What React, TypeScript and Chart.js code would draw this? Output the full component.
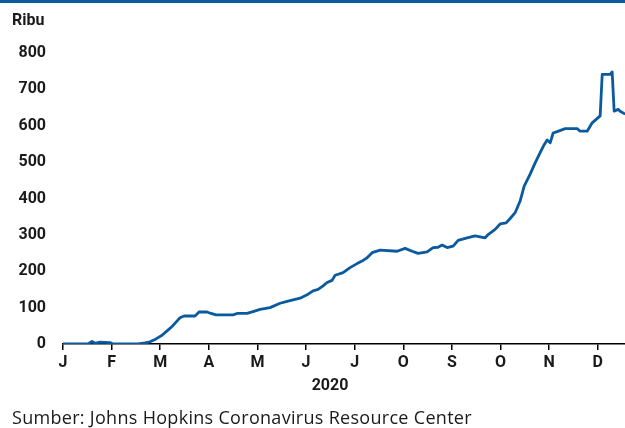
import React, { useEffect, useRef } from "react";
import { Chart, registerables } from "chart.js";

Chart.register(...registerables);

// Month tick labels (Indonesian initials as in the source)
const MONTH_LABELS = ["J", "F", "M", "A", "M", "J", "J", "O", "S", "O", "N", "D"];
const Y_TICKS = [0, 100, 200, 300, 400, 500, 600, 700, 800];
const X_MAX = 11.56;

// Position in months since 1 Jan 2020
const DATE_POS = [
  0, 0.514, 0.597, 0.658, 0.761, 0.967, 1.029, 1.543, 1.687, 1.79, 1.914, 2.037,
  2.14, 2.243, 2.325, 2.407, 2.49, 2.716, 2.798, 2.963, 3.045, 3.148, 3.498, 3.58,
  3.786, 3.909, 4.053, 4.259, 4.465, 4.63, 4.877, 5.041, 5.144, 5.247, 5.35, 5.432,
  5.535, 5.597, 5.761, 5.905, 6.049, 6.152, 6.255, 6.358, 6.523, 6.872, 7.037, 7.181,
  7.305, 7.49, 7.613, 7.716, 7.798, 7.901, 8.025, 8.128, 8.313, 8.477, 8.683, 8.745,
  8.889, 8.992, 9.115, 9.198, 9.3, 9.403, 9.486, 9.609, 9.712, 9.815, 9.897, 9.959,
  10.021, 10.082, 10.165, 10.329, 10.576, 10.638, 10.782, 10.885, 11.049, 11.091,
  11.255, 11.296, 11.337, 11.42, 11.461, 11.564,
];

// New cases, thousands (ribu)
const CASES_K = [
  0, 0, 7, 2, 5, 4, 0, 0, 3, 6, 14, 24,
  36, 48, 60, 72, 77, 77, 88, 88, 84, 80, 80, 84,
  84, 89, 95, 100, 112, 118, 126, 137, 146, 150, 160, 169,
  175, 189, 196, 210, 221, 228, 237, 251, 258, 255, 263, 255,
  249, 253, 265, 266, 272, 265, 269, 285, 292, 297, 292, 301,
  315, 330, 333, 345, 361, 393, 434, 467, 498, 526, 548, 561,
  553, 580, 584, 592, 592, 585, 585, 608, 627, 741,
  741, 748, 640, 645, 640, 632,
];

const BLUE = "#0a5a9f";
const TEXT = "#1a1a1a";
const FONT = "Roboto";

export default function App() {
  const ref = useRef<HTMLCanvasElement | null>(null);

  useEffect(() => {
    document.body.style.margin = "0";
    const canvas = ref.current;
    if (!canvas) return;
    const chart = new Chart(canvas, {
      type: "line",
      data: {
        datasets: [
          {
            data: DATE_POS.map((x, i) => ({ x, y: CASES_K[i] })),
            borderColor: BLUE,
            borderWidth: 2.8,
            borderJoinStyle: "round",
            pointRadius: 0,
            tension: 0,
            fill: false,
          },
        ],
      },
      options: {
        animation: false,
        responsive: false,
        maintainAspectRatio: false,
        layout: { padding: { top: 53, right: 0, bottom: 54, left: 0 } },
        plugins: { legend: { display: false }, tooltip: { enabled: false } },
        scales: {
          x: {
            type: "linear",
            min: 0,
            max: X_MAX,
            afterBuildTicks: (s: any) => {
              s.ticks = MONTH_LABELS.map((_, i) => ({ value: i }));
            },
            afterFit: (s: any) => {
              s.height = 30;
            },
            grid: {
              drawOnChartArea: false,
              drawTicks: true,
              tickLength: 6,
              color: "#000",
              lineWidth: 1.5,
            },
            border: { display: true, color: "#000", width: 1.5 },
            ticks: {
              callback: (_v: any, i: number) => MONTH_LABELS[i] ?? "",
              font: { family: FONT, size: 16, weight: "bold" },
              color: TEXT,
              padding: 3,
              maxRotation: 0,
              autoSkip: false,
            },
          },
          y: {
            min: 0,
            max: 800,
            afterBuildTicks: (s: any) => {
              s.ticks = Y_TICKS.map((v) => ({ value: v }));
            },
            afterFit: (s: any) => {
              s.width = 63;
            },
            grid: { display: false, drawTicks: false },
            border: { display: false },
            ticks: {
              font: { family: FONT, size: 16, weight: "bold" },
              color: TEXT,
              padding: 17,
            },
          },
        },
      },
    } as any);
    return () => chart.destroy();
  }, []);

  return (
    <div style={{ position: "relative", width: 625, height: 428, overflow: "hidden", background: "#fff" }}>
      <div style={{ position: "absolute", left: 0, top: 0, width: 625, height: 3, background: BLUE }} />
      <canvas ref={ref} width={625} height={428} style={{ position: "absolute", left: 0, top: 0 }} />
      <div
        style={{
          position: "absolute",
          left: 12,
          top: 10,
          fontFamily: FONT,
          fontWeight: 700,
          fontSize: 16,
          color: TEXT,
          lineHeight: "20px",
        }}
      >
        Ribu
      </div>
      <div
        style={{
          position: "absolute",
          left: 290,
          width: 80,
          top: 375,
          textAlign: "center",
          fontFamily: FONT,
          fontWeight: 700,
          fontSize: 16,
          color: TEXT,
          lineHeight: "20px",
        }}
      >
        2020
      </div>
      <div
        style={{
          position: "absolute",
          left: 12,
          top: 406,
          fontFamily: "Open Sans",
          fontSize: 18,
          letterSpacing: 0.3,
          color: TEXT,
          lineHeight: "22px",
          whiteSpace: "nowrap",
        }}
      >
        Sumber: Johns Hopkins Coronavirus Resource Center
      </div>
    </div>
  );
}
